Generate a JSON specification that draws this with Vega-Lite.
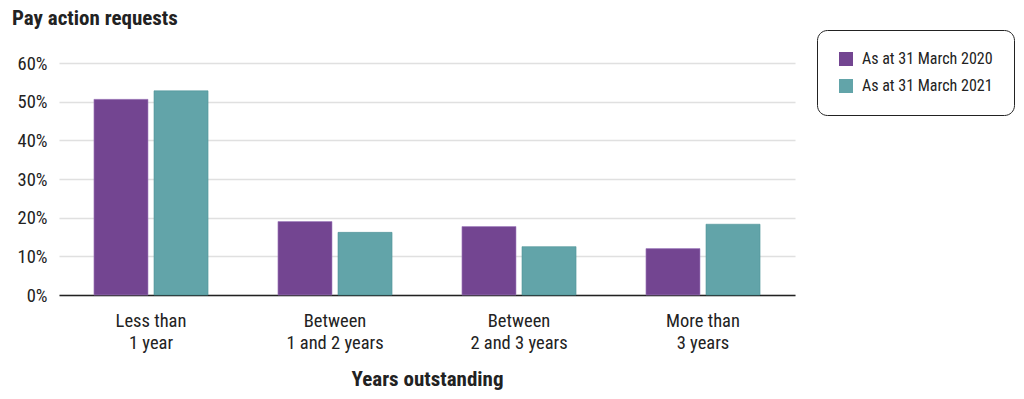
{
  "$schema": "https://vega.github.io/schema/vega-lite/v6.json",
  "autosize": "none",
  "width": 736,
  "height": 232,
  "padding": {"left": 59, "top": 63, "right": 229, "bottom": 104},
  "background": "white",
  "title": {
    "text": "Pay action requests",
    "anchor": "start",
    "frame": "group",
    "dx": -47,
    "fontSize": 21,
    "fontWeight": "bold",
    "color": "#222222",
    "offset": 1
  },
  "config": {
    "font": "Roboto Condensed, Liberation Sans Narrow, Roboto",
    "view": {"stroke": null}
  },
  "data": {
    "values": [
      {"group": "Less than 1 year", "series": "As at 31 March 2020", "value": 0.506},
      {"group": "Less than 1 year", "series": "As at 31 March 2021", "value": 0.528},
      {"group": "Between 1 and 2 years", "series": "As at 31 March 2020", "value": 0.19},
      {"group": "Between 1 and 2 years", "series": "As at 31 March 2021", "value": 0.162},
      {"group": "Between 2 and 3 years", "series": "As at 31 March 2020", "value": 0.177},
      {"group": "Between 2 and 3 years", "series": "As at 31 March 2021", "value": 0.125},
      {"group": "More than 3 years", "series": "As at 31 March 2020", "value": 0.12},
      {"group": "More than 3 years", "series": "As at 31 March 2021", "value": 0.183}
    ]
  },
  "mark": {"type": "bar", "strokeWidth": 1, "strokeOpacity": 0.6},
  "encoding": {
    "x": {
      "field": "group",
      "type": "nominal",
      "sort": ["Less than 1 year", "Between 1 and 2 years", "Between 2 and 3 years", "More than 3 years"],
      "scale": {"paddingInner": 0.38, "paddingOuter": 0.19},
      "axis": {
        "title": "Years outstanding",
        "titleFontSize": 21,
        "titleFontWeight": "bold",
        "titleColor": "#222222",
        "titlePadding": 17,
        "labelAngle": 0,
        "labelFontSize": 18.5,
        "labelColor": "#222222",
        "labelPadding": 25,
        "labelLineHeight": 22,
        "labelBaseline": "middle",
        "labelExpr": "datum.value == 'Less than 1 year' ? ['Less than', '1 year'] : datum.value == 'Between 1 and 2 years' ? ['Between', '1 and 2 years'] : datum.value == 'Between 2 and 3 years' ? ['Between', '2 and 3 years'] : ['More than', '3 years']",
        "ticks": false,
        "domainColor": "#222222",
        "domainWidth": 1.5
      }
    },
    "xOffset": {
      "field": "series",
      "type": "nominal",
      "scale": {"paddingInner": 0.1, "paddingOuter": 0}
    },
    "y": {
      "field": "value",
      "type": "quantitative",
      "scale": {"domain": [0, 0.6]},
      "axis": {
        "title": null,
        "format": ".0%",
        "values": [0, 0.1, 0.2, 0.3, 0.4, 0.5, 0.6],
        "labelFontSize": 18.5,
        "labelColor": "#222222",
        "labelPadding": 12,
        "ticks": false,
        "domain": false,
        "gridColor": "#e0e0e0",
        "gridWidth": 1.5
      }
    },
    "color": {
      "field": "series",
      "type": "nominal",
      "scale": {"domain": ["As at 31 March 2020", "As at 31 March 2021"], "range": ["#734591", "#62a4a9"]},
      "legend": {
        "title": null,
        "orient": "none",
        "legendX": 758,
        "legendY": -33,
        "padding": 21,
        "rowPadding": 11,
        "symbolType": "square",
        "symbolSize": 196,
        "symbolStrokeWidth": 0,
        "labelFontSize": 16,
        "labelColor": "#222222",
        "labelOffset": 8,
        "strokeColor": "#222222",
        "cornerRadius": 10,
        "fillColor": "white"
      }
    },
    "stroke": {
      "field": "series",
      "type": "nominal",
      "scale": {"domain": ["As at 31 March 2020", "As at 31 March 2021"], "range": ["#a27fc0", "#4f9297"]},
      "legend": null
    }
  }
}
